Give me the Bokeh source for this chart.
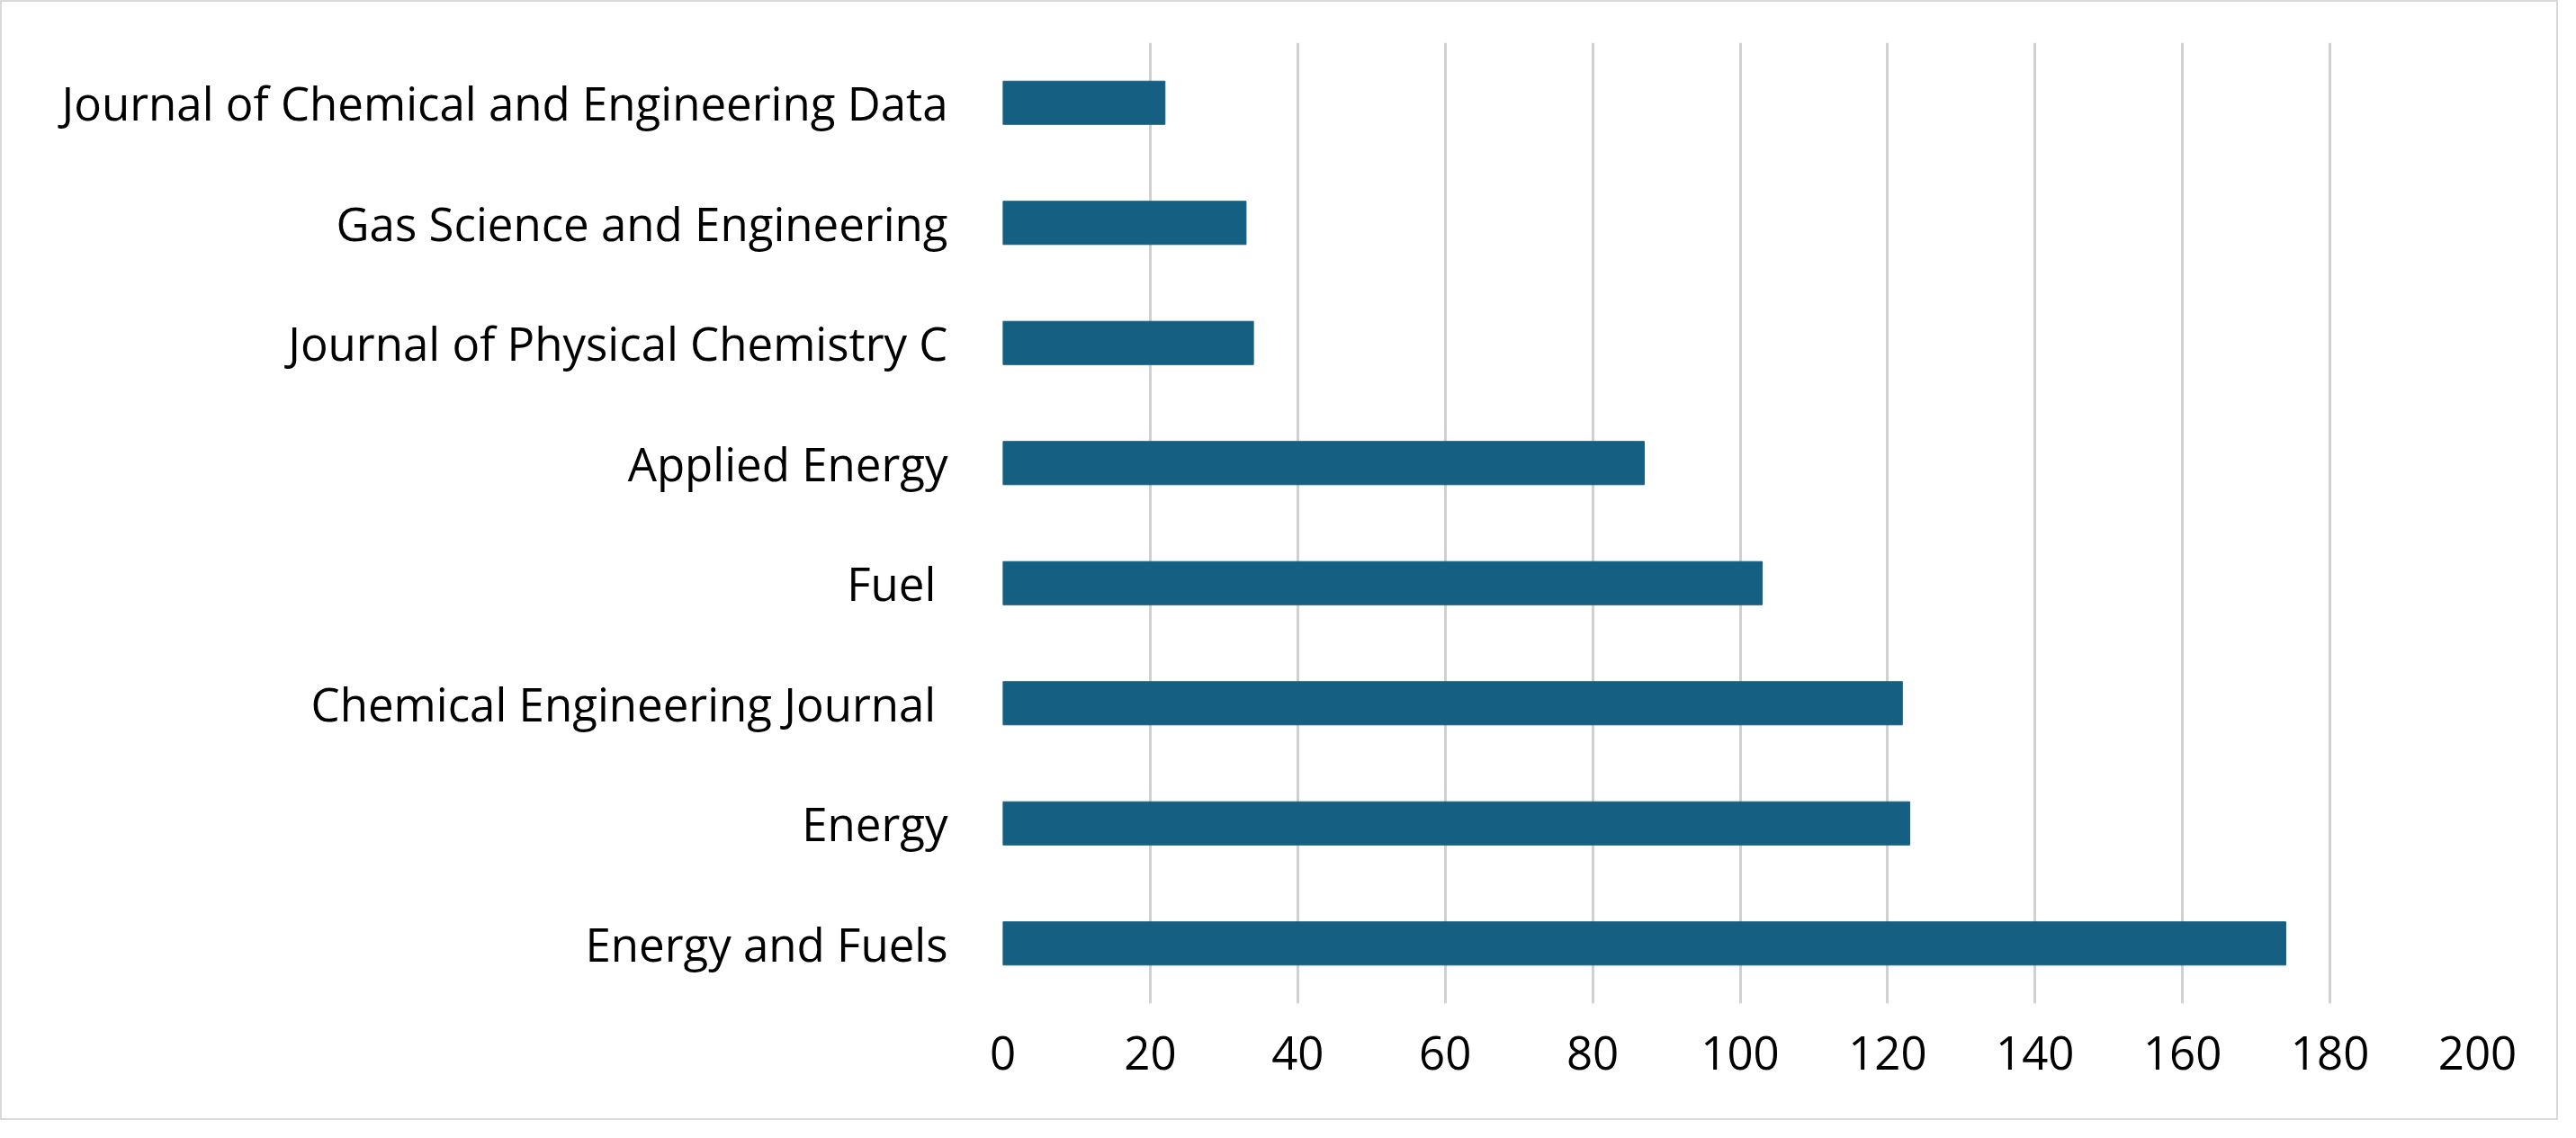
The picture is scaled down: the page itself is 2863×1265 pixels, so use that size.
from bokeh.plotting import figure
from bokeh.embed import file_html
from bokeh.resources import INLINE
from bokeh.models import Range1d, FactorRange

journals = ["Energy and Fuels", "Energy", "Chemical Engineering Journal ", "Fuel ",
            "Applied Energy", "Journal of Physical Chemistry C",
            "Gas Science and Engineering", "Journal of Chemical and Engineering Data"]
counts = [174, 123, 122, 103, 87, 34, 33, 22]
x_ticks = [0, 20, 40, 60, 80, 100, 120, 140, 160, 180, 200]

p = figure(width=2843, height=1245, output_backend="svg", toolbar_location=None,
           y_range=FactorRange(factors=journals, range_padding=0),
           x_range=Range1d(0, 200),
           min_border_left=1112, min_border_right=92, min_border_top=45, min_border_bottom=132)
p.styles = {"border": "2px solid #d9d9d9"}
p.hbar(y=journals, right=counts, height=0.36, color="#156082")
p.outline_line_color = None
p.ygrid.grid_line_color = None
p.xgrid.grid_line_color = "#d0d0d0"
p.xgrid.grid_line_width = 3
p.xaxis.ticker = x_ticks
for ax in (p.xaxis[0], p.yaxis[0]):
    ax.axis_line_color = None
    ax.major_tick_line_color = None
    ax.minor_tick_line_color = None
    ax.major_label_text_font = "Open Sans"
    ax.major_label_text_font_size = "51px"
    ax.major_label_text_color = "#000000"
p.xaxis.major_label_standoff = 30
p.yaxis.major_label_standoff = 55

open("out.html", "w").write(file_html(p, INLINE))
